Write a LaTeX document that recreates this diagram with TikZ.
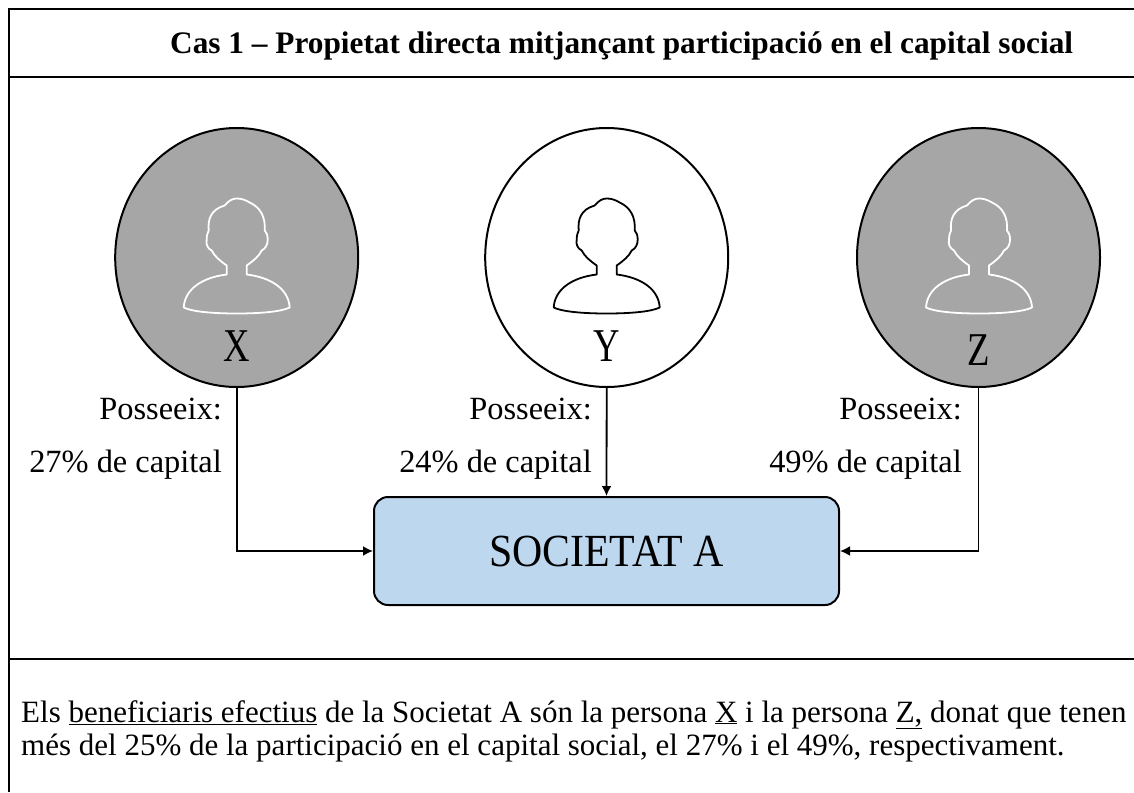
\documentclass[tikz,border=0pt]{standalone}
\usepackage{fontspec}
\setmainfont{Liberation Serif}
\newfontfamily\narrowfont[FakeStretch=0.78]{Liberation Serif}
\newfontfamily\boxfont[FakeStretch=0.91]{Liberation Serif}
\usetikzlibrary{shapes.geometric,arrows.meta}
\definecolor{circlegray}{RGB}{166,166,166}
\definecolor{boxblue}{RGB}{189,215,238}
\tikzset{
    frame-line/.style = {draw=black, line width=2pt},
    person-circle/.style = {draw=black, ellipse, line width=2pt, minimum width=243pt, minimum height=259pt, inner sep=0pt},
    person-letter/.style = {anchor=base, inner sep=0pt, font=\narrowfont\fontsize{47}{47}\selectfont},
    person-icon/.style = {line width=1.8pt, line join=round},
    share-label/.style = {anchor=base east, inner sep=0pt, font=\fontsize{32.4}{32.4}\selectfont},
    share-line/.style = {draw=black, line width=1.8pt, -{Latex[length=10pt,width=10pt]}},
    company-box/.style = {draw=black, fill=boxblue, line width=2pt, rectangle, rounded corners=14pt, minimum width=465pt, minimum height=108pt, font=\boxfont\fontsize{46}{46}\selectfont},
}
\newcommand{\personicon}[3]{%
\draw[person-icon, draw=#3, shift={(#1,#2)}]
    (0,56) .. controls (-25,56) and (-45,54) .. (-53,50)
    .. controls (-52,32) and (-35,20) .. (-10,17) -- (-10,8)
    .. controls (-17,3) and (-22,-1) .. (-25,-7)
    .. controls (-29,-9) and (-31,-13) .. (-30,-18)
    .. controls (-30,-22) and (-29,-25) .. (-28,-27)
    .. controls (-29,-38) and (-26,-48) .. (-12,-52)
    .. controls (-8,-57) and (-4,-59) .. (0,-59)
    .. controls (4,-59) and (8,-58) .. (13,-55)
    .. controls (24,-50) and (29,-40) .. (28,-27)
    .. controls (30,-25) and (31,-22) .. (31,-18)
    .. controls (31,-13) and (29,-9) .. (25,-7)
    .. controls (22,-1) and (17,3) .. (10,8) -- (10,17)
    .. controls (35,20) and (52,32) .. (53,50)
    .. controls (45,54) and (25,56) .. (0,56) -- cycle;
}
\begin{document}
\begin{tikzpicture}[x=1pt, y=-1pt]
\useasboundingbox (0,0) rectangle (1134,792);
% table frame
\draw[frame-line] (8.5,792) -- (8.5,9) -- (1134,9);
\draw[frame-line] (8.5,77) -- (1134,77);
\draw[frame-line] (8.5,659) -- (1134,659);
\node[anchor=base west, inner sep=0pt, font=\bfseries\fontsize{31.3}{31.3}\selectfont] (title) at (170,53) {Cas 1 -- Propietat directa mitjançant participació en el capital social};

% persons
\node[person-circle, fill=circlegray] (X) at (236.7,257.5) {};
\node[person-circle, fill=white] (Y) at (606.7,257.5) {};
\node[person-circle, fill=circlegray] (Z) at (978.5,257.5) {};
\personicon{236.7}{257.5}{white}
\personicon{606.7}{257.5}{black}
\personicon{979}{257.5}{white}
\node[person-letter] (letterX) at (236.7,361) {X};
\node[person-letter] (letterY) at (606.7,361) {Y};
\node[person-letter] (letterZ) at (979,365) {Z};

\node[company-box] (soc) at (606.5,551) {SOCIETAT A};

% connectors
\draw[share-line] (X.south) |- (soc.west);
\draw[share-line] (Y.south) -- (soc.north);
\draw[share-line] (Z.south) |- (soc.east);

\node[share-label] (possX) at (222,419) {Posseeix:};
\node[share-label] (capX) at (222,472) {27\% de capital};
\node[share-label] (possY) at (592,419) {Posseeix:};
\node[share-label] (capY) at (592,472) {24\% de capital};
\node[share-label] (possZ) at (962,419) {Posseeix:};
\node[share-label] (capZ) at (962,472) {49\% de capital};

\node[anchor=base west, inner sep=0pt, font=\fontsize{31}{33}\selectfont, align=left] (body) at (21,755)
  {Els \underline{beneficiaris efectius} de la Societat A són la persona \underline{X} i la persona \underline{Z,} donat que tenen\\
   més del 25\% de la participació en el capital social, el 27\% i el 49\%, respectivament.};
\end{tikzpicture}
\end{document}
